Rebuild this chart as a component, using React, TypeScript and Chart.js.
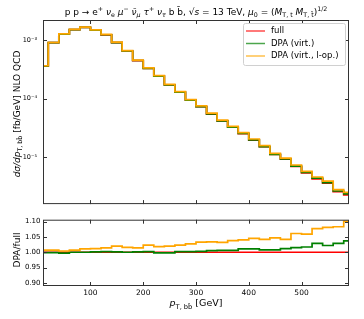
import React, { useEffect, useRef } from 'react';
import { Chart, registerables } from 'chart.js';

Chart.register(...registerables);

// ---------- data ----------
const binEdges = [10, 20, 40, 60, 80, 100, 120, 140, 160, 180, 200, 220, 240, 260, 280, 300, 320, 340, 360, 380, 400, 420, 440, 460, 480, 500, 520, 540, 560, 580, 590];

const fullValues = [
  3.63e-4, 9.03e-4, 1.27e-3, 1.51e-3, 1.65e-3, 1.47e-3, 1.23e-3, 9.03e-4, 6.52e-4, 4.48e-4,
  3.28e-4, 2.43e-4, 1.72e-4, 1.29e-4, 9.42e-5, 7.33e-5, 5.49e-5, 4.18e-5, 3.27e-5, 2.54e-5,
  1.97e-5, 1.52e-5, 1.12e-5, 9.3e-6, 7.0e-6, 5.45e-6, 4.3e-6, 3.65e-6, 2.6e-6, 2.3e-6,
];

const ratioDpaVirt = [
  0.999, 0.999, 0.997, 1.0, 1.0, 1.001, 1.002, 1.001, 1.0, 1.001,
  1.002, 0.998, 0.998, 1.002, 1.002, 1.003, 1.005, 1.006, 1.006, 1.011,
  1.011, 1.008, 1.008, 1.012, 1.015, 1.017, 1.029, 1.022, 1.029, 1.037,
];

const ratioDpaLop = [
  1.007, 1.007, 1.004, 1.007, 1.011, 1.012, 1.014, 1.02, 1.016, 1.014,
  1.023, 1.018, 1.02, 1.023, 1.027, 1.033, 1.034, 1.032, 1.038, 1.04,
  1.045, 1.042, 1.047, 1.042, 1.061, 1.059, 1.077, 1.081, 1.083, 1.101,
];

const seriesLabels = ['full', 'DPA (virt.)', 'DPA (virt., l-op.)'];
const seriesColors = ['#ff0000', '#008000', '#ffa500'];

const xTicks = [100, 200, 300, 400, 500];
const topYTicks = [1e-5, 1e-4, 1e-3];
const bottomYTicks = [0.9, 0.95, 1.0, 1.05, 1.1];

// ---------- helpers ----------
const FAMILY = '"DejaVu Sans", sans-serif';
const SUP: Record<string, string> = { '-': '⁻', '0': '⁰', '1': '¹', '2': '²', '3': '³', '4': '⁴', '5': '⁵', '6': '⁶', '7': '⁷', '8': '⁸', '9': '⁹' };

function powLabel(v: number) {
  const e = Math.round(Math.log10(v));
  return '10' + String(e).split('').map((c) => SUP[c] || c).join('');
}

function stepPoints(vals: number[], base?: number) {
  const pts: { x: number; y: number }[] = [];
  if (base !== undefined) pts.push({ x: binEdges[0], y: base });
  vals.forEach((v, i) => pts.push({ x: binEdges[i], y: v }));
  pts.push({ x: binEdges[binEdges.length - 1], y: vals[vals.length - 1] });
  return pts;
}

type Seg = { t: string; sub?: boolean; sup?: boolean; it?: boolean };

function segFont(s: Seg, size: number) {
  const sz = s.sub || s.sup ? size * 0.7 : size;
  return `${s.it ? 'italic ' : ''}${sz}px ${FAMILY}`;
}

function drawRich(ctx: CanvasRenderingContext2D, segs: Seg[], cx: number, cy: number, size: number, rot = 0) {
  ctx.save();
  ctx.translate(cx, cy);
  if (rot) ctx.rotate(rot);
  let w = 0;
  for (const s of segs) {
    ctx.font = segFont(s, size);
    w += ctx.measureText(s.t).width;
  }
  let x = -w / 2;
  ctx.textAlign = 'left';
  ctx.textBaseline = 'alphabetic';
  ctx.fillStyle = '#000';
  const base = size * 0.36;
  for (const s of segs) {
    ctx.font = segFont(s, size);
    const dy = s.sub ? size * 0.25 : s.sup ? -size * 0.42 : 0;
    ctx.fillText(s.t, x, base + dy);
    x += ctx.measureText(s.t).width;
  }
  ctx.restore();
}

function drawFrameTicks(chart: any, yTickVals: number[]) {
  const { ctx, chartArea: a, scales } = chart;
  ctx.save();
  ctx.strokeStyle = '#333';
  ctx.lineWidth = 1;
  ctx.strokeRect(a.left + 0.5, a.top + 0.5, a.right - a.left - 1, a.bottom - a.top - 1);
  ctx.beginPath();
  for (const v of xTicks) {
    const px = Math.round(scales.x.getPixelForValue(v)) + 0.5;
    ctx.moveTo(px, a.bottom);
    ctx.lineTo(px, a.bottom - 4);
    ctx.moveTo(px, a.top);
    ctx.lineTo(px, a.top + 4);
  }
  for (const v of yTickVals) {
    const py = Math.round(scales.y.getPixelForValue(v)) + 0.5;
    ctx.moveTo(a.left, py);
    ctx.lineTo(a.left + 4, py);
    ctx.moveTo(a.right, py);
    ctx.lineTo(a.right - 4, py);
  }
  ctx.stroke();
  ctx.restore();
}

const titleSegs: Seg[] = [
  { t: 'p p → e' }, { t: '+', sup: true }, { t: ' ' }, { t: 'ν', it: true }, { t: 'e', sub: true }, { t: ' ' },
  { t: 'μ', it: true }, { t: '−', sup: true }, { t: ' ' }, { t: 'ν̄', it: true }, { t: 'μ', sub: true, it: true }, { t: ' ' },
  { t: 'τ', it: true }, { t: '+', sup: true }, { t: ' ' }, { t: 'ν', it: true }, { t: 'τ', sub: true, it: true },
  { t: ' b b̄, √' }, { t: 's', it: true }, { t: ' = 13 TeV, ' }, { t: 'μ', it: true }, { t: '0', sub: true },
  { t: ' = (' }, { t: 'M', it: true }, { t: 'T, t', sub: true }, { t: ' ' }, { t: 'M', it: true }, { t: 'T, t̄', sub: true },
  { t: ')' }, { t: '1/2', sup: true },
];
const topYTitle: Seg[] = [
  { t: 'dσ/dp', it: true }, { t: 'T, bb̄', sub: true }, { t: ' [fb/GeV] NLO QCD' },
];
const botYTitle: Seg[] = [{ t: 'DPA/full' }];
const xTitle: Seg[] = [{ t: 'p', it: true }, { t: 'T, bb̄', sub: true }, { t: ' [GeV]' }];

const topPlugin = {
  id: 'topDeco',
  afterDatasetsDraw(chart: any) {
    const ctx: CanvasRenderingContext2D = chart.ctx;
    drawFrameTicks(chart, topYTicks);
    drawRich(ctx, titleSegs, 196, 11.5, 9);
    drawRich(ctx, topYTitle, 17, 114, 9, -Math.PI / 2);
    // legend
    ctx.save();
    const bx = 243.5, by = 23.5, bw = 102, bh = 42;
    ctx.fillStyle = 'rgba(255,255,255,0.8)';
    ctx.strokeStyle = '#d0d0d0';
    ctx.lineWidth = 1;
    ctx.beginPath();
    (ctx as any).roundRect(bx, by, bw, bh, 2);
    ctx.fill();
    ctx.stroke();
    ctx.font = `8.5px ${FAMILY}`;
    ctx.textBaseline = 'middle';
    ctx.textAlign = 'left';
    seriesLabels.forEach((lab, i) => {
      const y = 31 + i * 12.5;
      ctx.strokeStyle = seriesColors[i];
      ctx.globalAlpha = 0.7;
      ctx.lineWidth = 1.5;
      ctx.beginPath();
      ctx.moveTo(246, y);
      ctx.lineTo(265, y);
      ctx.stroke();
      ctx.globalAlpha = 1;
      ctx.fillStyle = '#000';
      ctx.fillText(lab, 271, y);
    });
    ctx.restore();
  },
};

const botPlugin = {
  id: 'botDeco',
  afterDatasetsDraw(chart: any) {
    const ctx: CanvasRenderingContext2D = chart.ctx;
    drawFrameTicks(chart, bottomYTicks);
    drawRich(ctx, xTitle, 196, 90, 9.5);
    drawRich(ctx, botYTitle, 17, 37, 9, -Math.PI / 2);
  },
};

function datasets(values: number[][], base?: number) {
  return values.map((vals, i) => ({
    label: seriesLabels[i],
    data: stepPoints(vals, base),
    borderColor: seriesColors[i],
    backgroundColor: seriesColors[i],
    borderWidth: 1.7,
    pointRadius: 0,
    stepped: true as const,
    fill: false,
    order: 3 - i,
  }));
}

export default function App() {
  const topRef = useRef<HTMLCanvasElement>(null);
  const botRef = useRef<HTMLCanvasElement>(null);

  useEffect(() => {
    const dpaVirt = fullValues.map((v, i) => v * ratioDpaVirt[i]);
    const dpaLop = fullValues.map((v, i) => v * ratioDpaLop[i]);
    const ones = fullValues.map((v) => v / v);

    const top = new Chart(topRef.current as HTMLCanvasElement, {
      type: 'line',
      data: { datasets: datasets([fullValues, dpaVirt, dpaLop]) as any },
      options: {
        animation: false,
        responsive: false,
        devicePixelRatio: 1,
        layout: { padding: { top: 20, right: 15, left: 0, bottom: 0 } },
        plugins: { legend: { display: false }, tooltip: { enabled: false }, title: { display: false } },
        scales: {
          x: {
            type: 'linear', min: 10, max: 590,
            grid: { display: false, drawTicks: false }, border: { display: false },
            ticks: { display: false },
            afterBuildTicks: (s: any) => { s.ticks = xTicks.map((v) => ({ value: v })); },
            afterFit: (s: any) => { s.height = 1; },
          },
          y: {
            type: 'logarithmic', min: 1.6e-6, max: 2.2e-3,
            grid: { display: false, drawTicks: false }, border: { display: false },
            ticks: { font: { family: FAMILY, size: 6.5 }, color: '#000', padding: 6, callback: (v: any) => powLabel(Number(v)) },
            afterBuildTicks: (s: any) => { s.ticks = topYTicks.map((v) => ({ value: v })); },
            afterFit: (s: any) => { s.width = 43; },
          },
        },
      } as any,
      plugins: [topPlugin],
    });

    const bot = new Chart(botRef.current as HTMLCanvasElement, {
      type: 'line',
      data: { datasets: datasets([ones, ratioDpaVirt, ratioDpaLop], 0.8) as any },
      options: {
        animation: false,
        responsive: false,
        devicePixelRatio: 1,
        layout: { padding: { top: 2, right: 15, left: 0, bottom: 0 } },
        plugins: { legend: { display: false }, tooltip: { enabled: false }, title: { display: false } },
        scales: {
          x: {
            type: 'linear', min: 10, max: 590,
            grid: { display: false, drawTicks: false }, border: { display: false },
            ticks: { font: { family: FAMILY, size: 7.5 }, color: '#000', padding: 3, maxRotation: 0, autoSkip: false },
            afterBuildTicks: (s: any) => { s.ticks = xTicks.map((v) => ({ value: v })); },
            afterFit: (s: any) => { s.height = 33; },
          },
          y: {
            type: 'linear', min: 0.89, max: 1.106,
            grid: { display: false, drawTicks: false }, border: { display: false },
            ticks: { font: { family: FAMILY, size: 7 }, color: '#000', padding: 2.5, callback: (v: any) => Number(v).toFixed(2) },
            afterBuildTicks: (s: any) => { s.ticks = bottomYTicks.map((v) => ({ value: v })); },
            afterFit: (s: any) => { s.width = 43; },
          },
        },
      } as any,
      plugins: [botPlugin],
    });

    return () => {
      top.destroy();
      bot.destroy();
    };
  }, []);

  return (
    <div style={{ position: 'fixed', left: 0, top: 0, width: 364, height: 319, background: '#fff' }}>
      <canvas ref={topRef} width={364} height={214} style={{ position: 'absolute', left: 0, top: 0 }} />
      <canvas ref={botRef} width={364} height={106} style={{ position: 'absolute', left: 0, top: 213 }} />
    </div>
  );
}
